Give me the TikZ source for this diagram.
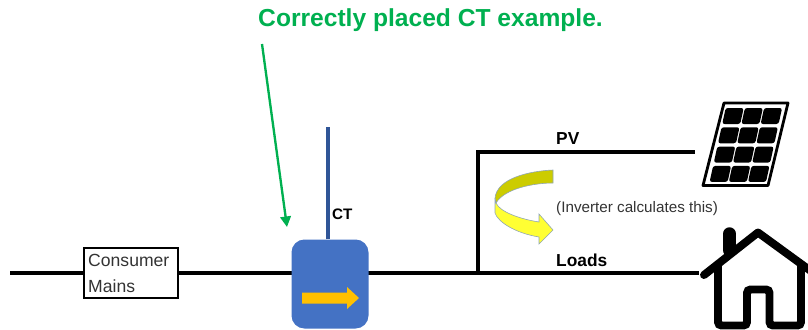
\documentclass[tikz,border=0pt]{standalone}
\usepackage{fontspec}
\usetikzlibrary{arrows.meta}
\setmainfont{Liberation Sans}
\definecolor{ctgreen}{HTML}{00B050}
\definecolor{ctblue}{HTML}{4472C4}
\definecolor{ctwire}{HTML}{2F5597}
\definecolor{ctorange}{HTML}{FFC000}
\definecolor{curvedark}{HTML}{CCCC00}
\definecolor{curvelight}{HTML}{FFFF33}
\definecolor{curveedge}{HTML}{8FA5B5}
\definecolor{plaintext}{HTML}{333333}
\tikzset{
    wire/.style={line width=3.6pt, black},
    boldlabel/.style={font=\fontsize{14.8}{18}\selectfont\bfseries, anchor=west, inner sep=0pt},
    greylabel/.style={font=\fontsize{13}{16}\selectfont, text=plaintext, anchor=west, inner sep=0pt},
    iconspace/.style={fill=white, inner sep=0pt}
}

\begin{document}
\begin{tikzpicture}[x=0.03cm, y=-0.03cm]
    \clip (0,0) rectangle (808,329);

    % Title and pointer
    \node[boldlabel, font=\fontsize{21}{25}\selectfont\bfseries, text=ctgreen] (title) at (258,20) {Correctly placed CT example.};
    \coordinate (pointerstart) at (262,44);
    \coordinate (pointerend) at (287,227);
    \draw[ctgreen, line width=2pt, -{Triangle[length=9pt,width=9pt]}] (pointerstart) -- (pointerend);

    % Icon areas
    \node[iconspace, minimum width=3cm, minimum height=3.12cm] (panel) at (745,152) {};
    \node[iconspace, minimum width=3.27cm, minimum height=3.36cm] (house) at (753.5,273) {};

    % Consumer mains box
    \node[draw, line width=1.7pt, fill=white, minimum width=2.82cm, minimum height=1.5cm] (consumer) at (131,273) {};
    \node[greylabel, font=\fontsize{15}{18}\selectfont] (consumertext) at (88,260) {Consumer};
    \node[greylabel, font=\fontsize{15}{18}\selectfont] (mainstext) at (88,286) {Mains};

    % Main line
    \coordinate (mainsin) at (10,273);
    \coordinate (junction) at (478,273);
    \draw[wire] (mainsin) -- (consumer);
    \draw[wire] (consumer) -- (junction);
    \draw[wire] (junction) -- (house.west |- junction);
    \draw[wire] (junction) |- (panel.west);

    % CT
    \node[fill=ctblue, rounded corners=11pt, minimum width=2.31cm, minimum height=2.67cm] (ctbox) at (330,284) {};
    \coordinate (ctend) at (328,127);
    \draw[ctwire, line width=2.8pt] (ctbox.north -| ctend) -- (ctend);
    \node[boldlabel, font=\fontsize{13}{16}\selectfont\bfseries] (ctlabel) at (332,214) {CT};
    \fill[ctorange] (302,292.5) -- (347,292.5) -- (347,287) -- (359,298) -- (347,309) -- (347,303.5) -- (302,303.5) -- cycle;

    % Labels
    \node[boldlabel] (pvlabel) at (556,139) {PV};
    \node[boldlabel] (loadslabel) at (556,260) {Loads};
    \node[greylabel] (inverterlabel) at (556,209) {(Inverter calculates this)};

    % Curved arrow
    \draw[curveedge, fill=curvedark, line width=0.5pt] (553,170) .. controls (530,171) and (497,178) .. (495,198)
        -- (496,203) .. controls (505,188) and (535,183) .. (553,183) -- cycle;
    \draw[curveedge, fill=curvelight, line width=0.5pt] (495,198) -- (495,213) .. controls (498,222) and (515,233) .. (539,237)
        -- (539,244) -- (553,230) -- (539,214) -- (539,222) .. controls (520,219) and (500,212) .. (496,203) -- cycle;

    % Solar panel
    \draw[line width=2.4pt, line join=round] (724,103) -- (788,103) -- (768,185.5) -- (703,185.5) -- cycle;
    \foreach \i in {0,1,2} {
        \foreach \j in {0,1,2,3} {
            \pgfmathsetmacro{\xa}{725.7+19.2*\i-4.2*\j}
            \fill[rounded corners=2pt] (\xa,{108+19.3*\j}) -- ({\xa+18},{108+19.3*\j}) -- ({\xa+14.5},{124+19.3*\j}) -- ({\xa-3.5},{124+19.3*\j}) -- cycle;
        }
    }

    % House
    \draw[line width=6.8pt, rounded corners=3pt] (718,262) -- (718,325.5) -- (747,325.5) -- (747,289.5) -- (769.5,289.5) -- (769.5,325.5) -- (801,325.5) -- (801,262);
    \draw[line width=11.5pt, line cap=round] (729.5,234) -- (729.5,250);
    \draw[line width=6.8pt, line cap=round, line join=round] (704,275) -- (758,232.5) -- (815,274);
\end{tikzpicture}
\end{document}
